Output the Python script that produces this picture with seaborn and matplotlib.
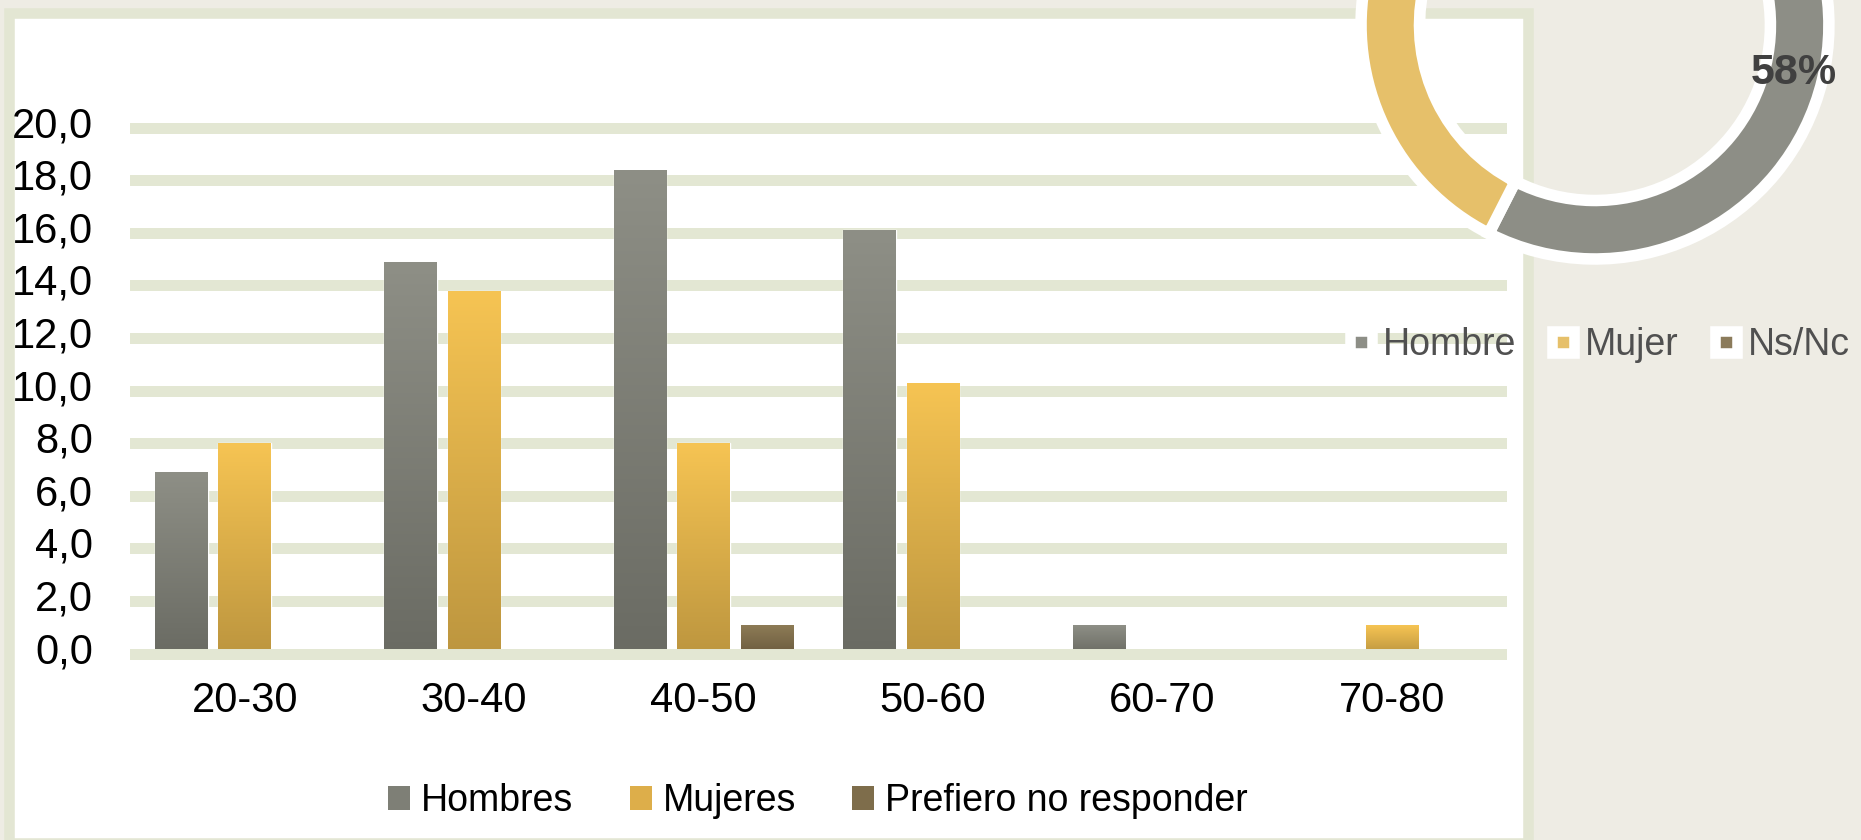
import numpy as np
import pandas as pd
import seaborn as sns
import matplotlib
matplotlib.use("Agg")
import matplotlib.pyplot as plt
from matplotlib import transforms
from matplotlib.colors import LinearSegmentedColormap
from matplotlib.patches import Rectangle, Patch
from matplotlib.lines import Line2D

# datos (porcentaje de encuestados por grupo de edad)
grupos = ["20-30", "30-40", "40-50", "50-60", "60-70", "70-80"]
hombres = [6.9, 14.9, 18.4, 16.1, 1.1, 0.0]
mujeres = [8.0, 13.8, 8.0, 10.3, 0.0, 1.1]
ns_nc = [0.0, 0.0, 1.1, 0.0, 0.0, 0.0]
series = ["Hombres", "Mujeres", "Prefiero no responder"]

# donut por sexo
donut_labels = ["Hombre", "Mujer", "Ns/Nc"]
donut_vals = [57.5, 41.4, 1.1]
donut_texto = "58%"

# colores
BG = "#EEECE4"
BORDE = "#E3E6D3"
GRID = "#E3E7D3"
colores_top = ["#8E8F86", "#F6C453", "#8D7B56"]
colores_base = ["#6A6B63", "#BD963F", "#6C5C3E"]
colores_leyenda = ["#7E7F76", "#DDAE4A", "#7E6D4B"]
donut_colores = ["#8D8E86", "#E6C06A", "#8B7B5B"]

df = pd.DataFrame({"grupo": grupos, series[0]: hombres,
                   series[1]: mujeres, series[2]: ns_nc})
df = df.melt(id_vars="grupo", var_name="serie", value_name="pct")

sns.set_theme(style="white")
plt.rcParams["font.family"] = ["Liberation Sans", "DejaVu Sans"]

fig = plt.figure(figsize=(18.61, 8.4), dpi=100, facecolor=BG)

# panel blanco con borde
panel = Rectangle((0.0051, -0.003), 0.816, 0.987, transform=fig.transFigure,
                  facecolor="white", edgecolor=BORDE, linewidth=7.6, zorder=-1)
fig.add_artist(panel)

ax = fig.add_axes([0.06985, 0.2126, 0.7397, 0.645])
ax.set_facecolor("none")
sns.barplot(data=df, x="grupo", y="pct", hue="serie", palette=colores_top,
            width=0.83, gap=0.17, saturation=1, legend=False, ax=ax, zorder=2)

# degradado vertical en cada barra
grad = np.linspace(0, 1, 256).reshape(-1, 1)
for i, cont in enumerate(ax.containers):
    cmap = LinearSegmentedColormap.from_list(f"g{i}", [colores_base[i], colores_top[i]])
    for bar in cont:
        h = bar.get_height()
        if h <= 0:
            continue
        x, w = bar.get_x(), bar.get_width()
        ax.imshow(grad, cmap=cmap, extent=[x, x + w, 0, h], origin="lower",
                  aspect="auto", zorder=2.5, interpolation="bicubic")
        bar.set_facecolor("none")

ax.set_xlim(-0.5, 5.5)
ax.set_ylim(-0.3, 20.3)
yt = np.arange(0, 21, 2)
ax.set_yticks(yt)
ax.set_yticklabels([f"{v:.1f}".replace(".", ",") for v in yt])
ax.yaxis.grid(True, color=GRID, linewidth=7.9)
ax.xaxis.grid(False)
ax.set_axisbelow(True)
ax.axhline(0, color=GRID, linewidth=7.9, zorder=3)
for s in ax.spines.values():
    s.set_visible(False)
ax.tick_params(axis="both", length=0, labelsize=30, labelcolor="black")
ax.tick_params(axis="y", pad=26.6)
ax.tick_params(axis="x", pad=14)
ax.set_xlabel("")
ax.set_ylabel("")
off = transforms.ScaledTranslation(0, 0.06, fig.dpi_scale_trans)
for lab in ax.get_yticklabels():
    lab.set_transform(lab.get_transform() + off)

# leyenda inferior
handles = [Patch(facecolor=c, edgecolor="none") for c in colores_leyenda]
ax.legend(handles, series, loc="center", bbox_to_anchor=(818 / 1861, 1 - 801 / 840),
          bbox_transform=fig.transFigure, ncol=3, frameon=False, labelcolor="black",
          prop={"size": 27}, handlelength=0.59, handleheight=0.59,
          handletextpad=0.29, columnspacing=1.5)

# donut arriba a la derecha
ax2 = fig.add_axes([0.7313, 0.6917, 0.2515, 0.557])
ax2.set_facecolor("none")
wedges, _ = ax2.pie(donut_vals, colors=donut_colores, startangle=90, counterclock=False,
                    radius=1, wedgeprops=dict(width=0.25, edgecolor="white", linewidth=8.3))
for w in wedges:
    w.set_clip_on(False)
ax2.set_xlim(-1, 1)
ax2.set_ylim(-1, 1)
w0 = wedges[0]
ang = np.deg2rad((w0.theta1 + w0.theta2) / 2)
ax2.text(0.875 * np.cos(ang), 0.875 * np.sin(ang), donut_texto, ha="center", va="center",
         fontsize=31, fontweight="bold", color="#404040", clip_on=False)

dhandles = [Line2D([], [], marker="s", linestyle="none", markersize=15.5,
                   markerfacecolor=c, markeredgecolor="white", markeredgewidth=7.6)
            for c in donut_colores]
fig.legend(dhandles, donut_labels, loc="center", bbox_to_anchor=(1597 / 1861, 1 - 345 / 840),
           ncol=3, frameon=False, prop={"size": 27}, labelcolor="#505050",
           handlelength=0.9, handletextpad=0.13, columnspacing=0.8)

fig.savefig("out.png", dpi=100, facecolor=BG)
